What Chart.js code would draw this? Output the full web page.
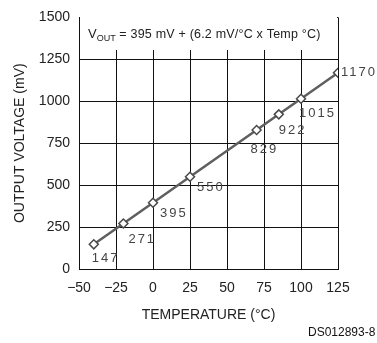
<!DOCTYPE html>
<html><head><meta charset="utf-8">
<script src="https://cdn.jsdelivr.net/npm/chart.js@4/dist/chart.umd.min.js"></script>
<style>html,body{margin:0;padding:0;background:#fff}#wrap{width:377px;height:343px;position:relative}</style>
</head><body><div id="wrap"><canvas id="c" width="377" height="343"></canvas></div>
<script>
const temperatures = [-40, -20, 0, 25, 70, 85, 100, 125];
const outputMv = [147, 271, 395, 550, 829, 922, 1015, 1170];
const xTicks = [-50, -25, 0, 25, 50, 75, 100, 125];
const yTicks = [0, 250, 500, 750, 1000, 1250, 1500];
const xTitle = 'TEMPERATURE (°C)';
const yTitle = 'OUTPUT VOLTAGE (mV)';
const figId = 'DS012893-8';

const FONT = '"Liberation Sans", Arial, sans-serif';

const overlay = {
  id: 'overlay',
  beforeDatasetsDraw(chart) {
    const {ctx, chartArea: a} = chart;
    ctx.save();
    ctx.fillStyle = '#fff';
    ctx.fillRect(a.left + 1, 17, a.right - a.left - 2, 33);
    ctx.fillStyle = '#222';
    ctx.textBaseline = 'alphabetic';
    ctx.textAlign = 'left';
    let x = 88, y = 38;
    ctx.font = '13px ' + FONT;
    ctx.fillText('V', x, y); x += ctx.measureText('V').width;
    ctx.font = '9px ' + FONT;
    ctx.fillText('OUT', x, y + 3); x += ctx.measureText('OUT').width;
    ctx.font = '12.5px ' + FONT;
    ctx.letterSpacing = '0.2px';
    ctx.fillText(' = 395 mV + (6.2 mV/°C x Temp °C)', x, y);
    ctx.restore();
  },
  afterDatasetsDraw(chart) {
    const {ctx} = chart;
    const meta = chart.getDatasetMeta(0);
    const offs = [[-2,14],[5,16],[7,11],[7,11],[-6,19],[0,16],[-2,15],[3,0]];
    ctx.save();
    ctx.font = '13px ' + FONT;
    ctx.letterSpacing = '2px';
    ctx.fillStyle = '#444';
    ctx.textAlign = 'left';
    ctx.textBaseline = 'middle';
    meta.data.forEach((p, i) => {
      const o = offs[i];
      ctx.fillText(String(outputMv[i]), p.x + o[0], p.y + o[1]);
    });
    ctx.letterSpacing = '0px';
    ctx.font = '12px ' + FONT;
    ctx.fillStyle = '#111';
    ctx.fillText(figId, 308, 333);
    ctx.restore();
  }
};

new Chart(document.getElementById('c'), {
  type: 'line',
  data: {
    datasets: [{
      data: temperatures.map((t, i) => ({x: t, y: outputMv[i]})),
      borderColor: '#5f5f5f',
      borderWidth: 2.5,
      pointStyle: 'rectRot',
      pointRadius: 4.5,
      pointBackgroundColor: '#fff',
      pointBorderColor: '#4a4a4a',
      pointBorderWidth: 1.5,
      tension: 0
    }]
  },
  options: {
    responsive: false,
    animation: false,
    devicePixelRatio: 1,
    layout: {padding: {top: 11, right: 39, left: 0, bottom: 0}},
    plugins: {legend: {display: false}, tooltip: {enabled: false}},
    scales: {
      x: {
        type: 'linear', min: -50, max: 125,
        afterBuildTicks: s => { s.ticks = xTicks.map(v => ({value: v})); },
        afterFit: s => { s.height = 74; },
        grid: {color: '#111', lineWidth: 1, drawTicks: false},
        border: {color: '#111', width: 1},
        ticks: {color: '#222', padding: 11, font: {family: FONT, size: 14},
          callback: v => String(v).replace('-', '\u2212')},
        title: {display: true, text: xTitle, color: '#222', font: {family: FONT, size: 14}, padding: {top: 19, bottom: 19}}
      },
      y: {
        type: 'linear', min: 0, max: 1500,
        afterBuildTicks: s => { s.ticks = yTicks.map(v => ({value: v})); },
        afterFit: s => { s.width = 79; },
        grid: {color: '#111', lineWidth: 1, drawTicks: false},
        border: {color: '#111', width: 1},
        ticks: {color: '#222', padding: 9, font: {family: FONT, size: 14}, callback: v => String(v)},
        title: {display: true, text: yTitle, color: '#222', font: {family: FONT, size: 14}, padding: {top: 12, bottom: 12}}
      }
    }
  },
  plugins: [overlay]
});
</script></body></html>
